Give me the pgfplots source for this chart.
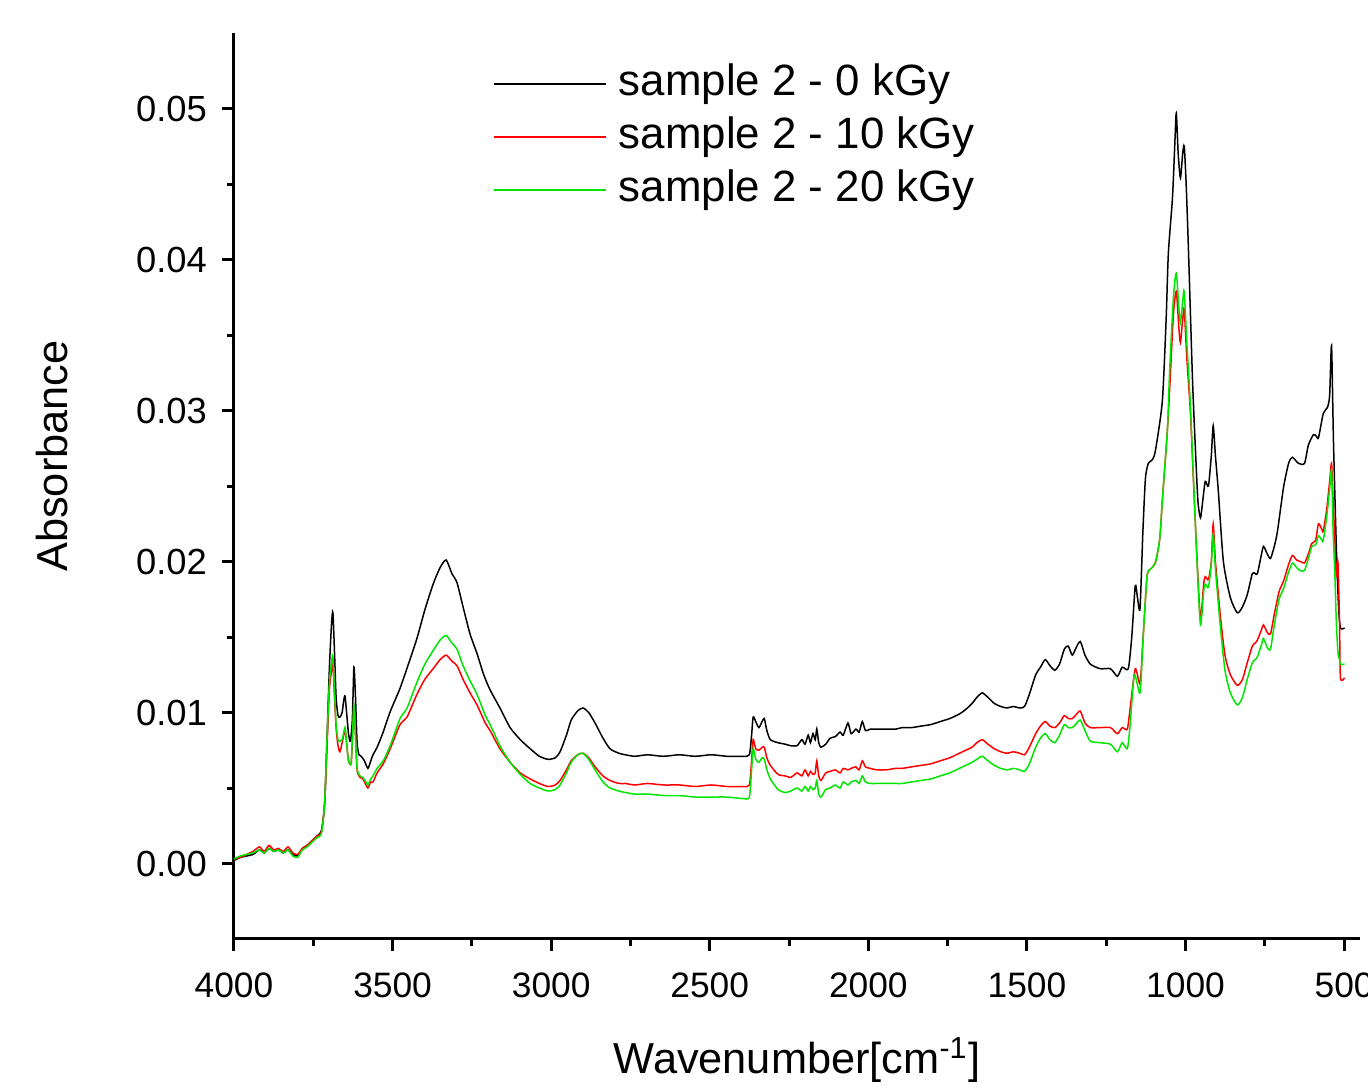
\documentclass[border=0pt]{standalone}
\usepackage{fontspec}
\setmainfont{Liberation Sans}
\usepackage{pgfplots}
\pgfplotsset{compat=1.18}
\begin{document}
\begin{tikzpicture}
\begin{axis}[
  scale only axis,
  width=337.8pt, height=271.8pt,
  x dir=reverse,
  xmin=450, xmax=4000,
  ymin=-0.005, ymax=0.055,
  axis x line*=bottom, axis y line*=left,
  axis line style={line width=0.9pt,-},
  every tick/.style={line width=0.9pt,black},
  tick align=outside,
  major tick length=3.6pt, minor tick length=2.1pt,
  xtick={500,1000,...,4000},
  ytick={0,0.01,...,0.05},
  minor x tick num=1, minor y tick num=1,
  scaled y ticks=false,
  x filter/.expression={4000-(4000-x)*1.003},
  /pgf/number format/assume math mode=true,
  xticklabel style={/pgf/number format/1000 sep={}, font=\fontsize{10.6}{12}\selectfont, yshift=-3pt},
  yticklabel style={/pgf/number format/.cd, fixed, fixed zerofill, precision=2, /tikz/.cd, font=\fontsize{10.9}{12}\selectfont, xshift=-1pt},
  xlabel={Wavenumber[cm\textsuperscript{-1}]},
  ylabel={Absorbance},
  xlabel style={font=\fontsize{13}{15.6}\selectfont, at={(axis description cs:0.5,0)}, anchor=center, yshift=-36.3pt},
  ylabel style={font=\fontsize{13}{15.6}\selectfont, at={(axis description cs:0,0.533)}, anchor=center, yshift=54.6pt},
  legend cell align=left,
  legend image code/.code={\draw[#1,line width=0.6pt] (0pt,0pt) -- (33.6pt,0pt);},
  legend style={at={(axis description cs:0.230,0.9680)}, anchor=north west, draw=none, fill=none, inner sep=0pt, outer sep=0pt,
    font=\fontsize{13.15}{15.6}\selectfont, row sep=2.9pt,
    nodes={inner sep=0pt, text height=10pt, text depth=3pt},
    /tikz/every odd column/.append style={column sep=3.6pt}},
]
\addplot[black, line width=0.45pt, smooth, tension=0.4] coordinates {
(4000,0.0002)(3980,0.0004)(3960,0.0005)(3940,0.0006)(3920,0.0009)(3905,0.0007)(3890,0.0010)(3875,0.0008)(3860,0.0009)(3845,0.0007)(3830,0.0009)(3815,0.0006)(3800,0.0005)(3785,0.0010)(3770,0.0012)(3755,0.0015)(3740,0.0018)(3725,0.0022)(3715,0.0040)(3708,0.0080)(3700,0.0130)(3693,0.0160)(3689,0.0166)(3684,0.0140)(3679,0.0110)(3673,0.0098)(3667,0.0097)(3660,0.0100)(3655,0.0108)(3651,0.0111)(3646,0.0100)(3640,0.0086)(3634,0.0081)(3628,0.0095)(3623,0.0130)(3618,0.0110)(3613,0.0080)(3607,0.0072)(3600,0.0071)(3590,0.0068)(3579,0.0063)(3570,0.0068)(3563,0.0072)(3550,0.0077)(3531,0.0087)(3510,0.0100)(3490,0.0110)(3478,0.0116)(3455,0.0130)(3425,0.0149)(3400,0.0168)(3374,0.0185)(3352,0.0196)(3333,0.0201)(3315,0.0192)(3299,0.0186)(3280,0.0170)(3258,0.0152)(3236,0.0139)(3215,0.0125)(3195,0.0115)(3164,0.0103)(3132,0.0090)(3100,0.0082)(3069,0.0076)(3040,0.0071)(3013,0.0069)(2990,0.0070)(2975,0.0074)(2955,0.0085)(2940,0.0095)(2920,0.0101)(2903,0.0103)(2885,0.0100)(2865,0.0093)(2840,0.0083)(2818,0.0076)(2790,0.0073)(2770,0.0072)(2740,0.0071)(2700,0.0072)(2650,0.0071)(2600,0.0072)(2550,0.0071)(2500,0.0072)(2450,0.0071)(2400,0.0071)(2380,0.0072)(2373,0.0085)(2368,0.0097)(2360,0.0094)(2350,0.0090)(2340,0.0094)(2333,0.0096)(2325,0.0088)(2314,0.0082)(2290,0.0080)(2267,0.0079)(2250,0.0078)(2230,0.0078)(2215,0.0082)(2205,0.0079)(2195,0.0085)(2188,0.0080)(2180,0.0086)(2173,0.0082)(2168,0.0089)(2162,0.0080)(2155,0.0077)(2140,0.0079)(2126,0.0083)(2110,0.0084)(2095,0.0087)(2085,0.0085)(2070,0.0093)(2060,0.0086)(2045,0.0089)(2035,0.0087)(2025,0.0094)(2015,0.0088)(2000,0.0089)(1980,0.0089)(1950,0.0089)(1920,0.0089)(1900,0.0090)(1870,0.0090)(1840,0.0091)(1810,0.0092)(1780,0.0094)(1750,0.0096)(1720,0.0099)(1700,0.0102)(1680,0.0106)(1665,0.0110)(1648,0.0113)(1630,0.0110)(1610,0.0106)(1590,0.0104)(1570,0.0103)(1550,0.0104)(1530,0.0103)(1515,0.0104)(1500,0.0112)(1480,0.0125)(1465,0.0130)(1450,0.0135)(1435,0.0131)(1420,0.0128)(1405,0.0132)(1390,0.0142)(1378,0.0144)(1365,0.0138)(1355,0.0142)(1340,0.0147)(1325,0.0138)(1308,0.0132)(1277,0.0129)(1245,0.0129)(1223,0.0124)(1208,0.0130)(1189,0.0129)(1178,0.0150)(1167,0.0184)(1160,0.0176)(1152,0.0169)(1143,0.0220)(1135,0.0255)(1126,0.0265)(1115,0.0267)(1104,0.0273)(1082,0.0306)(1070,0.0360)(1063,0.0404)(1050,0.0441)(1042,0.0480)(1038,0.0497)(1032,0.0470)(1025,0.0454)(1018,0.0470)(1013,0.0475)(1007,0.0450)(1000,0.0408)(987,0.0320)(978,0.0275)(970,0.0240)(962,0.0229)(955,0.0240)(947,0.0253)(937,0.0250)(928,0.0270)(922,0.0290)(915,0.0270)(906,0.0247)(890,0.0200)(868,0.0176)(846,0.0166)(830,0.0170)(815,0.0178)(799,0.0192)(790,0.0192)(783,0.0192)(772,0.0203)(764,0.0210)(752,0.0205)(742,0.0202)(730,0.0210)(720,0.0220)(701,0.0249)(685,0.0265)(673,0.0269)(654,0.0265)(635,0.0265)(623,0.0277)(607,0.0284)(598,0.0283)(591,0.0282)(576,0.0298)(563,0.0302)(556,0.0310)(550,0.0343)(544,0.0280)(535,0.0210)(528,0.0170)(522,0.0156)(509,0.0156)
};
\addlegendentry{sample 2 - 0 kGy}
\addplot[red, line width=0.45pt, smooth, tension=0.4] coordinates {
(4000,0.0003)(3980,0.0004)(3960,0.0006)(3940,0.0008)(3920,0.0011)(3905,0.0008)(3890,0.0012)(3875,0.0009)(3860,0.0010)(3845,0.0008)(3830,0.0011)(3815,0.0007)(3800,0.0006)(3785,0.0010)(3770,0.0012)(3755,0.0015)(3740,0.0018)(3725,0.0021)(3715,0.0040)(3708,0.0075)(3700,0.0115)(3693,0.0128)(3689,0.0131)(3684,0.0110)(3679,0.0090)(3673,0.0078)(3667,0.0074)(3660,0.0080)(3651,0.0088)(3646,0.0080)(3640,0.0068)(3632,0.0066)(3628,0.0080)(3623,0.0104)(3618,0.0085)(3613,0.0062)(3604,0.0057)(3595,0.0056)(3585,0.0052)(3579,0.0050)(3570,0.0054)(3563,0.0054)(3550,0.0060)(3531,0.0066)(3509,0.0076)(3478,0.0092)(3456,0.0097)(3425,0.0112)(3400,0.0122)(3374,0.0129)(3352,0.0135)(3333,0.0138)(3315,0.0134)(3299,0.0131)(3280,0.0122)(3258,0.0113)(3236,0.0105)(3210,0.0093)(3195,0.0088)(3164,0.0076)(3132,0.0067)(3100,0.0060)(3069,0.0056)(3040,0.0053)(3013,0.0051)(2990,0.0052)(2975,0.0055)(2955,0.0062)(2940,0.0068)(2920,0.0072)(2903,0.0073)(2885,0.0070)(2865,0.0064)(2840,0.0058)(2818,0.0055)(2790,0.0053)(2770,0.0053)(2740,0.0052)(2700,0.0053)(2650,0.0052)(2600,0.0052)(2550,0.0051)(2500,0.0052)(2450,0.0051)(2400,0.0051)(2380,0.0052)(2373,0.0068)(2368,0.0082)(2360,0.0076)(2350,0.0075)(2340,0.0077)(2333,0.0077)(2325,0.0070)(2314,0.0065)(2290,0.0059)(2267,0.0058)(2250,0.0057)(2230,0.0060)(2215,0.0058)(2205,0.0062)(2195,0.0058)(2188,0.0061)(2180,0.0059)(2173,0.0060)(2168,0.0068)(2162,0.0058)(2155,0.0055)(2140,0.0060)(2126,0.0061)(2110,0.0062)(2095,0.0060)(2085,0.0063)(2070,0.0062)(2060,0.0063)(2045,0.0064)(2035,0.0062)(2025,0.0068)(2015,0.0064)(2000,0.0063)(1980,0.0062)(1950,0.0062)(1920,0.0063)(1900,0.0063)(1870,0.0064)(1840,0.0065)(1810,0.0066)(1780,0.0068)(1750,0.0070)(1720,0.0073)(1700,0.0075)(1680,0.0077)(1665,0.0080)(1648,0.0082)(1630,0.0079)(1610,0.0076)(1590,0.0074)(1570,0.0073)(1550,0.0074)(1530,0.0073)(1515,0.0072)(1500,0.0077)(1480,0.0086)(1465,0.0091)(1450,0.0094)(1435,0.0091)(1420,0.0090)(1405,0.0093)(1390,0.0098)(1378,0.0096)(1365,0.0096)(1355,0.0098)(1340,0.0101)(1325,0.0093)(1308,0.0090)(1277,0.0090)(1245,0.0090)(1223,0.0086)(1208,0.0090)(1192,0.0089)(1183,0.0103)(1167,0.0129)(1152,0.0119)(1143,0.0147)(1130,0.0190)(1119,0.0195)(1104,0.0199)(1090,0.0215)(1082,0.0240)(1066,0.0287)(1057,0.0322)(1047,0.0364)(1038,0.0379)(1030,0.0355)(1025,0.0345)(1018,0.0360)(1013,0.0367)(1005,0.0335)(994,0.0300)(984,0.0253)(972,0.0198)(962,0.0162)(952,0.0185)(947,0.0190)(937,0.0188)(928,0.0200)(922,0.0225)(915,0.0200)(900,0.0165)(885,0.0138)(868,0.0125)(846,0.0118)(830,0.0122)(815,0.0133)(799,0.0144)(790,0.0146)(783,0.0148)(770,0.0155)(764,0.0158)(752,0.0153)(742,0.0152)(730,0.0165)(715,0.0180)(701,0.0187)(685,0.0198)(673,0.0204)(660,0.0201)(648,0.0200)(635,0.0199)(623,0.0205)(612,0.0212)(600,0.0214)(591,0.0225)(580,0.0221)(576,0.0220)(565,0.0235)(555,0.0255)(550,0.0265)(545,0.0240)(540,0.0216)(535,0.0190)(530,0.0200)(525,0.0160)(522,0.0123)(509,0.0123)
};
\addlegendentry{sample 2 - 10 kGy}
\addplot[color={rgb,255:red,0;green,230;blue,0}, line width=0.45pt, smooth, tension=0.4] coordinates {
(4000,0.0003)(3980,0.0005)(3960,0.0006)(3940,0.0007)(3920,0.0009)(3905,0.0007)(3890,0.0010)(3875,0.0008)(3860,0.0009)(3845,0.0007)(3830,0.0009)(3815,0.0005)(3800,0.0004)(3785,0.0009)(3770,0.0011)(3755,0.0014)(3740,0.0017)(3725,0.0020)(3715,0.0040)(3708,0.0080)(3700,0.0120)(3693,0.0134)(3689,0.0137)(3684,0.0115)(3679,0.0092)(3673,0.0082)(3667,0.0081)(3660,0.0082)(3651,0.0090)(3646,0.0080)(3640,0.0068)(3632,0.0066)(3628,0.0082)(3623,0.0105)(3618,0.0085)(3613,0.0063)(3604,0.0058)(3595,0.0057)(3585,0.0054)(3579,0.0052)(3570,0.0056)(3563,0.0058)(3550,0.0063)(3531,0.0068)(3509,0.0078)(3478,0.0096)(3456,0.0103)(3425,0.0120)(3400,0.0132)(3374,0.0141)(3352,0.0148)(3333,0.0151)(3315,0.0146)(3299,0.0142)(3280,0.0131)(3258,0.0121)(3236,0.0112)(3210,0.0098)(3195,0.0092)(3164,0.0078)(3132,0.0067)(3100,0.0059)(3069,0.0053)(3040,0.0050)(3013,0.0048)(2990,0.0049)(2975,0.0052)(2955,0.0060)(2940,0.0067)(2920,0.0072)(2903,0.0073)(2885,0.0069)(2865,0.0062)(2840,0.0054)(2818,0.0050)(2790,0.0048)(2770,0.0047)(2740,0.0046)(2700,0.0046)(2650,0.0045)(2600,0.0045)(2550,0.0044)(2500,0.0044)(2450,0.0044)(2400,0.0043)(2380,0.0044)(2373,0.0062)(2368,0.0076)(2360,0.0069)(2350,0.0067)(2340,0.0070)(2333,0.0069)(2325,0.0062)(2314,0.0056)(2290,0.0049)(2267,0.0047)(2250,0.0048)(2230,0.0050)(2215,0.0048)(2205,0.0051)(2195,0.0048)(2188,0.0051)(2180,0.0049)(2173,0.0050)(2168,0.0055)(2162,0.0046)(2155,0.0044)(2140,0.0049)(2126,0.0050)(2110,0.0052)(2095,0.0050)(2085,0.0054)(2070,0.0052)(2060,0.0054)(2045,0.0055)(2035,0.0053)(2025,0.0058)(2015,0.0054)(2000,0.0053)(1980,0.0053)(1950,0.0053)(1920,0.0053)(1900,0.0053)(1870,0.0054)(1840,0.0055)(1810,0.0056)(1780,0.0058)(1750,0.0060)(1720,0.0063)(1700,0.0065)(1680,0.0067)(1665,0.0069)(1648,0.0071)(1630,0.0068)(1610,0.0065)(1590,0.0063)(1570,0.0062)(1550,0.0063)(1530,0.0062)(1515,0.0061)(1500,0.0066)(1480,0.0077)(1465,0.0083)(1450,0.0086)(1435,0.0082)(1420,0.0080)(1405,0.0085)(1390,0.0092)(1378,0.0090)(1365,0.0090)(1355,0.0092)(1340,0.0095)(1325,0.0088)(1308,0.0081)(1277,0.0080)(1245,0.0079)(1223,0.0074)(1208,0.0080)(1192,0.0076)(1183,0.0092)(1170,0.0125)(1152,0.0113)(1143,0.0147)(1130,0.0190)(1119,0.0195)(1104,0.0199)(1090,0.0215)(1082,0.0240)(1066,0.0287)(1059,0.0326)(1047,0.0375)(1038,0.0391)(1030,0.0368)(1025,0.0358)(1018,0.0372)(1013,0.0379)(1005,0.0345)(994,0.0305)(984,0.0255)(972,0.0196)(962,0.0158)(952,0.0180)(947,0.0185)(937,0.0183)(928,0.0198)(922,0.0218)(915,0.0195)(900,0.0158)(885,0.0128)(868,0.0113)(846,0.0105)(830,0.0110)(815,0.0122)(799,0.0133)(790,0.0135)(783,0.0137)(770,0.0145)(764,0.0149)(752,0.0143)(742,0.0142)(730,0.0158)(715,0.0175)(701,0.0182)(685,0.0193)(673,0.0199)(660,0.0196)(648,0.0194)(635,0.0194)(623,0.0202)(612,0.0210)(600,0.0211)(591,0.0217)(580,0.0214)(576,0.0214)(565,0.0230)(555,0.0250)(550,0.0260)(545,0.0220)(540,0.0194)(535,0.0160)(530,0.0140)(525,0.0135)(522,0.0132)(509,0.0132)
};
\addlegendentry{sample 2 - 20 kGy}
\end{axis}
\pgfresetboundingbox
\path[use as bounding box] (-70.2pt,-45pt) rectangle (340.2pt,281.7pt);
\end{tikzpicture}
\end{document}
